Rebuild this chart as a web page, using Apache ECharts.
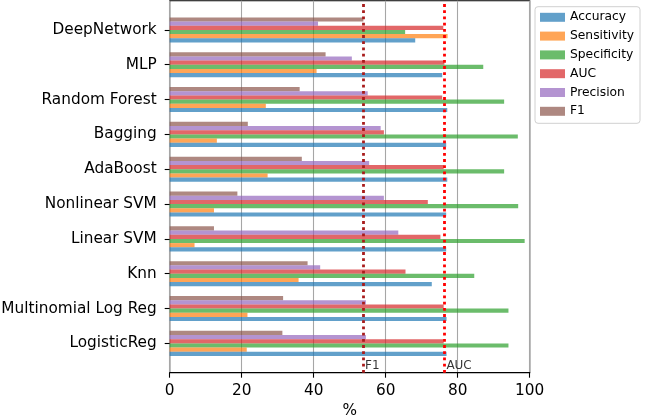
<!DOCTYPE html>
<html>
<head>
<meta charset="utf-8">
<script src="https://cdn.jsdelivr.net/npm/echarts@6/dist/echarts.min.js"></script>
<style>
html,body{margin:0;padding:0;background:#fff;}
#chart{width:648px;height:419px;}
</style>
</head>
<body>
<div id="chart"></div>
<script>
// categories listed bottom-to-top
var categories = ['LogisticReg','Multinomial Log Reg','Knn','Linear SVM','Nonlinear SVM','AdaBoost','Bagging','Random Forest','MLP','DeepNetwork'];
var seriesNames = ['Accuracy','Sensitivity','Specificity','AUC','Precision','F1'];
var accuracy    = [76.9, 76.9, 72.8, 76.8, 76.8, 77.1, 76.8, 77.1, 75.7, 68.2];
var sensitivity = [21.4, 21.6, 35.8, 6.9, 12.3, 27.2, 13.1, 26.7, 40.8, 77.2];
var specificity = [94.1, 94.1, 84.6, 98.6, 96.8, 92.9, 96.7, 92.9, 87.1, 65.4];
var auc         = [76.1, 76.1, 65.5, 75.2, 71.7, 76.1, 59.5, 75.7, 76.3, 76.0];
var precision   = [54.5, 54.5, 41.8, 63.5, 59.5, 55.4, 58.6, 55.0, 50.6, 41.2];
var f1          = [31.3, 31.5, 38.3, 12.3, 18.8, 36.7, 21.7, 36.1, 43.3, 53.8];
var refNames  = ['F1', 'AUC'];
var refValues = [53.7, 76.3];
var xTicks = [0, 20, 40, 60, 80, 100];

var colors = ['#1f77b4','#ff7f0e','#2ca02c','#d62728','#9467bd','#8c564b'];
var refColors = ['#a81c1c', '#ff0000'];
var values = [accuracy, sensitivity, specificity, auc, precision, f1];
var FONT = 'DejaVu Sans';

var barSeries = seriesNames.map(function (n, i) {
  return {
    name: n, type: 'bar', xAxisIndex: 1, yAxisIndex: 1,
    data: values[i],
    barGap: '0%', barCategoryGap: '28%',
    itemStyle: { color: colors[i], opacity: 0.7 },
    emphasis: { disabled: true },
    z: 2
  };
}).reverse(); // ECharts stacks the first series at the top of a horizontal group

var refSeries = {
  type: 'scatter', xAxisIndex: 0, yAxisIndex: 0,
  symbolSize: 0, silent: true,
  data: refValues.map(function (v, i) {
    return { value: [v, 0], label: { formatter: refNames[i] } };
  }),
  label: {
    show: true, position: 'insideBottomLeft', distance: 2, offset: [0, 2],
    fontFamily: FONT, fontSize: 12, color: '#000', lineHeight: 14
  },
  markLine: {
    silent: true, symbol: 'none',
    label: { show: false },
    data: refValues.map(function (v, i) {
      return { xAxis: v, lineStyle: { color: refColors[i], width: 2.8, type: [2.8, 3.4] } };
    })
  },
  z: 5
};

var chart = echarts.init(document.getElementById('chart'), null, { renderer: 'canvas' });
chart.setOption({
  animation: false,
  backgroundColor: '#fff',
  grid: [
    { left: 169.7, right: 118.3, top: 0.7, bottom: 46.3, show: true, borderColor: '#000', borderWidth: 1.1, backgroundColor: 'transparent', containLabel: false, outerBoundsMode: 'none' },
    { left: 169.7, right: 118.3, top: 12.5, height: 348.3, containLabel: false, outerBoundsMode: 'none' }
  ],
  legend: {
    data: seriesNames,
    orient: 'vertical',
    left: 535, top: 6.7,
    itemWidth: 25, itemHeight: 9, itemGap: 4.8, itemTextGap: 11,
    padding: [3.6, 6, 5, 5],
    borderColor: '#d0d0d0', borderWidth: 1, borderRadius: 3,
    backgroundColor: '#fff',
    textStyle: { fontFamily: FONT, fontSize: 12.3, color: '#000', lineHeight: 14 },
    icon: 'rect'
  },
  xAxis: [
    {
      gridIndex: 0, type: 'value', min: 0, max: 100, interval: 20,
      name: '%', nameLocation: 'middle', nameGap: 31,
      nameTextStyle: { fontFamily: FONT, fontSize: 15.3, color: '#000' },
      axisLine: { show: true, lineStyle: { color: '#000', width: 1.1 } },
      axisTick: { show: true, length: 5, lineStyle: { color: '#000', width: 1.1 } },
      axisLabel: { fontFamily: FONT, fontSize: 15.3, color: '#000', margin: 11,
        formatter: function (v) { return xTicks.indexOf(v) >= 0 ? String(v) : ''; } },
      splitLine: { show: true, lineStyle: { color: '#a6a6a6', width: 1.1 } }
    },
    { gridIndex: 1, type: 'value', min: 0, max: 100, show: false }
  ],
  yAxis: [
    { gridIndex: 0, type: 'value', min: 0, max: 1, show: false },
    {
      gridIndex: 1, type: 'category', data: categories,
      axisLine: { show: false },
      axisTick: { show: true, alignWithLabel: true, length: 5, lineStyle: { color: '#000', width: 1.1 } },
      axisLabel: { fontFamily: FONT, fontSize: 15.3, color: '#000', margin: 13 },
      splitLine: { show: false }
    }
  ],
  series: barSeries.concat([refSeries])
});
</script>
</body>
</html>
